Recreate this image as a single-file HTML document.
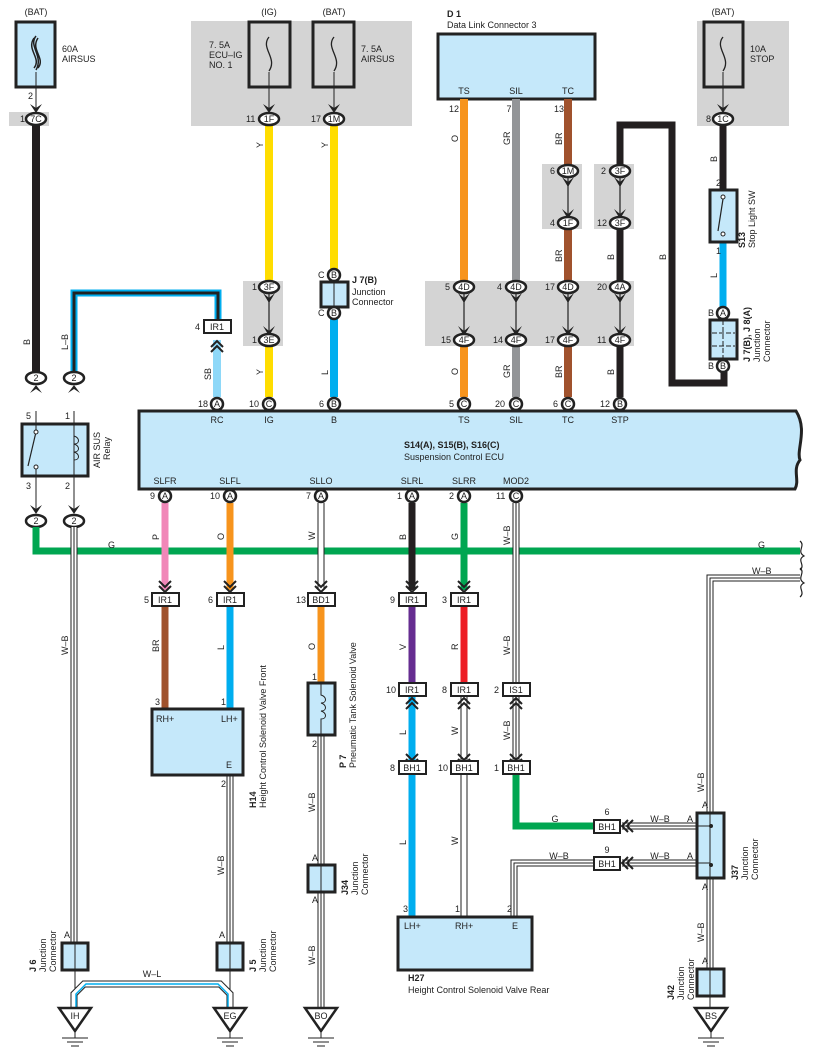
<!DOCTYPE html>
<html><head><meta charset="utf-8"><style>
html,body{margin:0;padding:0;background:#fff}
svg{display:block}
text{font-family:"Liberation Sans",sans-serif;font-size:9px;fill:#222}
.b{font-weight:bold}
.c{text-anchor:middle}
.fb{fill:#c5e8fa;stroke:#222;stroke-width:3}
.gy{fill:#d4d4d4}
.co{fill:#fff;stroke:#222;stroke-width:2.5}
.ch{fill:none;stroke:#222;stroke-width:2}
</style></head><body>
<svg width="814" height="1062" viewBox="0 0 814 1062" xmlns="http://www.w3.org/2000/svg">
<rect class="gy" x="9" y="112" width="40" height="14"/>
<rect class="gy" x="191" y="21" width="221" height="105"/>
<rect class="gy" x="697" y="21" width="92" height="105"/>
<rect class="gy" x="243" y="281" width="40" height="65"/>
<rect class="gy" x="542" y="164" width="40" height="65"/>
<rect class="gy" x="594" y="164" width="40" height="65"/>
<rect class="gy" x="425" y="281" width="209" height="65"/>

<rect class="fb" x="16" y="22" width="39" height="65"/>
<path d="M36 36 C28 46 44 56 36 70 M34 38 C26 50 42 58 34 68 M38 38 C30 50 46 58 38 68" fill="none" stroke="#222" stroke-width="1.5"/>
<text x="36" y="15" class="c">(BAT)</text>
<text x="62" y="52">60A</text><text x="62" y="62">AIRSUS</text>
<rect x="249" y="22" width="41" height="65" fill="#d4d4d4" stroke="#222" stroke-width="3"/>
<rect x="313" y="22" width="41" height="65" fill="#d4d4d4" stroke="#222" stroke-width="3"/>
<rect x="704" y="22" width="39" height="65" fill="#d4d4d4" stroke="#222" stroke-width="3"/>
<path d="M269 37 C260 48 278 58 269 71 M334 37 C325 48 343 58 334 71 M723 37 C714 48 732 58 723 71" fill="none" stroke="#222" stroke-width="1.3"/>
<text x="269" y="15" class="c">(IG)</text><text x="334" y="15" class="c">(BAT)</text><text x="723" y="15" class="c">(BAT)</text>
<text x="209" y="48">7. 5A</text><text x="209" y="58">ECU–IG</text><text x="209" y="68">NO. 1</text>
<text x="361" y="52">7. 5A</text><text x="361" y="62">AIRSUS</text>
<text x="750" y="52">10A</text><text x="750" y="62">STOP</text>
<path d="M36 72 V112 M269 72 V112 M334 72 V112 M723 72 V112" stroke="#222" stroke-width="1"/>
<text x="28" y="99">2</text>

<text x="447" y="17" class="b">D 1</text><text x="447" y="28">Data Link Connector 3</text>
<rect class="fb" x="438" y="34" width="157" height="65"/>
<text x="464" y="94" class="c">TS</text><text x="516" y="94" class="c">SIL</text><text x="568" y="94" class="c">TC</text>
<text x="454" y="112" class="c">12</text><text x="509" y="112" class="c">7</text><text x="559" y="112" class="c">13</text>

<path d="M36 125 V378" stroke="#231f20" stroke-width="8"/>
<path d="M74 372 V293 H218 V320" fill="none" stroke="#00aeef" stroke-width="7"/>
<path d="M74 372 V293 H218 V320" fill="none" stroke="#222" stroke-width="3"/>
<path d="M217 340 V397" stroke="#8ed8f8" stroke-width="8"/>
<path d="M269 125 V281 M269 346 V397" stroke="#ffdd00" stroke-width="8"/>
<path d="M334 125 V270" stroke="#ffdd00" stroke-width="8"/>
<path d="M334 319 V397" stroke="#00aeef" stroke-width="8"/>
<path d="M464 99 V281 M464 346 V397" stroke="#f7941d" stroke-width="8"/>
<path d="M516 99 V281 M516 346 V397" stroke="#939598" stroke-width="8"/>
<path d="M568 99 V165 M568 229 V281 M568 346 V397" stroke="#a0522d" stroke-width="8"/>
<path d="M620 165 V125 H672 V383 H724 V372" fill="none" stroke="#231f20" stroke-width="7"/>
<path d="M620 229 V281 M620 346 V397" stroke="#231f20" stroke-width="7"/>
<path d="M723 125 V190" stroke="#231f20" stroke-width="7"/>
<path d="M723 242 V308" stroke="#00aeef" stroke-width="7"/>
<g stroke="#222" stroke-width="1.2">
<path d="M269 292 V336 M568 176 V219 M620 176 V219 M464 292 V336 M516 292 V336 M568 292 V336 M620 292 V336"/>
</g>
<g fill="#222">
<path d="M263 293 L269 303 L275 293 L269 298Z M263 326 L269 336 L275 326 L269 331Z"/>
<path d="M562 177 L568 187 L574 177 L568 182Z M562 209 L568 219 L574 209 L568 214Z"/>
<path d="M614 177 L620 187 L626 177 L620 182Z M614 209 L620 219 L626 209 L620 214Z"/>
<path d="M458 293 L464 303 L470 293 L464 298Z M458 326 L464 336 L470 326 L464 331Z"/>
<path d="M510 293 L516 303 L522 293 L516 298Z M510 326 L516 336 L522 326 L516 331Z"/>
<path d="M562 293 L568 303 L574 293 L568 298Z M562 326 L568 336 L574 326 L568 331Z"/>
<path d="M614 293 L620 303 L626 293 L620 298Z M614 326 L620 336 L626 326 L620 331Z"/>
<path d="M30 104 L36 113 L42 104 L36 108Z M263 104 L269 113 L275 104 L269 108Z M328 104 L334 113 L340 104 L334 108Z M717 104 L723 113 L729 104 L723 108Z"/>
<path d="M30 393 L36 385 L42 393 L36 389Z M68 393 L74 385 L80 393 L74 389Z"/>
<path d="M30 505 L36 514 L42 505 L36 509Z M68 505 L74 514 L80 505 L74 509Z"/>
</g>
<path class="ch" d="M211 347 L217 341 L223 347 M211 352 L217 346 L223 352"/>

<g>
<ellipse class="co" cx="36" cy="119" rx="10" ry="6"/><text x="36" y="122" class="c">7C</text><text x="20" y="122">1</text>
<ellipse class="co" cx="269" cy="119" rx="10" ry="6"/><text x="269" y="122" class="c">1F</text><text x="246" y="122">11</text>
<ellipse class="co" cx="334" cy="119" rx="10" ry="6"/><text x="334" y="122" class="c">1M</text><text x="311" y="122">17</text>
<ellipse class="co" cx="723" cy="119" rx="10" ry="6"/><text x="723" y="122" class="c">1C</text><text x="706" y="122">8</text>
<ellipse class="co" cx="269" cy="287" rx="10" ry="6"/><text x="269" y="290" class="c">3F</text><text x="252" y="290">1</text>
<ellipse class="co" cx="269" cy="340" rx="10" ry="6"/><text x="269" y="343" class="c">3E</text><text x="252" y="343">1</text>
<ellipse class="co" cx="568" cy="171" rx="10" ry="6"/><text x="568" y="174" class="c">1M</text><text x="550" y="174">6</text>
<ellipse class="co" cx="568" cy="223" rx="10" ry="6"/><text x="568" y="226" class="c">1F</text><text x="550" y="226">4</text>
<ellipse class="co" cx="620" cy="171" rx="10" ry="6"/><text x="620" y="174" class="c">3F</text><text x="601" y="174">2</text>
<ellipse class="co" cx="620" cy="223" rx="10" ry="6"/><text x="620" y="226" class="c">3F</text><text x="597" y="226">12</text>
<ellipse class="co" cx="464" cy="287" rx="10" ry="6"/><text x="464" y="290" class="c">4D</text><text x="445" y="290">5</text>
<ellipse class="co" cx="516" cy="287" rx="10" ry="6"/><text x="516" y="290" class="c">4D</text><text x="497" y="290">4</text>
<ellipse class="co" cx="568" cy="287" rx="10" ry="6"/><text x="568" y="290" class="c">4D</text><text x="545" y="290">17</text>
<ellipse class="co" cx="620" cy="287" rx="10" ry="6"/><text x="620" y="290" class="c">4A</text><text x="597" y="290">20</text>
<ellipse class="co" cx="464" cy="340" rx="10" ry="6"/><text x="464" y="343" class="c">4F</text><text x="441" y="343">15</text>
<ellipse class="co" cx="516" cy="340" rx="10" ry="6"/><text x="516" y="343" class="c">4F</text><text x="493" y="343">14</text>
<ellipse class="co" cx="568" cy="340" rx="10" ry="6"/><text x="568" y="343" class="c">4F</text><text x="545" y="343">17</text>
<ellipse class="co" cx="620" cy="340" rx="10" ry="6"/><text x="620" y="343" class="c">4F</text><text x="597" y="343">11</text>
<ellipse class="co" cx="36" cy="378" rx="10" ry="6"/><text x="36" y="381" class="c">2</text>
<ellipse class="co" cx="74" cy="378" rx="10" ry="6"/><text x="74" y="381" class="c">2</text>
<ellipse class="co" cx="36" cy="521" rx="10" ry="6"/><text x="36" y="524" class="c">2</text>
<ellipse class="co" cx="74" cy="521" rx="10" ry="6"/><text x="74" y="524" class="c">2</text>
</g>

<circle class="co" cx="334" cy="275" r="6"/><text x="334" y="278" class="c">B</text><text x="318" y="278">C</text>
<rect x="321" y="282" width="27" height="25" class="fb"/><path d="M334 282 V307" stroke="#222" stroke-width="1"/>
<circle class="co" cx="334" cy="313" r="6"/><text x="334" y="316" class="c">B</text><text x="318" y="316">C</text>
<text x="352" y="283" class="b">J 7(B)</text><text x="352" y="295">Junction</text><text x="352" y="305">Connector</text>

<rect x="204" y="320" width="27" height="13" fill="#fff" stroke="#222" stroke-width="2"/><text x="217" y="330" class="c">IR1</text><text x="195" y="330">4</text>

<text x="716" y="186">2</text>
<rect class="fb" x="710" y="190" width="27" height="52"/>
<path d="M723 199 L718 231" stroke="#222" stroke-width="1.2"/><circle cx="723" cy="197" r="2" fill="#fff" stroke="#222"/><circle cx="723" cy="234" r="2" fill="#fff" stroke="#222"/>
<text transform="translate(745,248) rotate(-90)" class="b">S13</text>
<text transform="translate(755,248) rotate(-90)">Stop Light SW</text>
<text x="716" y="254">1</text>
<circle class="co" cx="723" cy="313" r="6"/><text x="723" y="316" class="c">A</text><text x="708" y="316">B</text>
<rect class="fb" x="710" y="320" width="27" height="39"/>
<path d="M723 320 V359 M712 333 H735 M712 346 H735" stroke="#222" stroke-width="1" stroke-dasharray="5,2"/>
<circle class="co" cx="723" cy="366" r="6"/><text x="723" y="369" class="c">B</text><text x="708" y="369">B</text>
<text transform="translate(750,362) rotate(-90)" class="b">J 7(B), J 8(A)</text>
<text transform="translate(760,362) rotate(-90)">Junction</text>
<text transform="translate(770,362) rotate(-90)">Connector</text>

<g>
<text transform="translate(30,345) rotate(-90)">B</text>
<text transform="translate(68,350) rotate(-90)">L–B</text>
<text transform="translate(211,380) rotate(-90)">SB</text>
<text transform="translate(263,148) rotate(-90)">Y</text><text transform="translate(263,375) rotate(-90)">Y</text>
<text transform="translate(328,148) rotate(-90)">Y</text><text transform="translate(328,375) rotate(-90)">L</text>
<text transform="translate(458,142) rotate(-90)">O</text><text transform="translate(458,375) rotate(-90)">O</text>
<text transform="translate(510,145) rotate(-90)">GR</text><text transform="translate(510,378) rotate(-90)">GR</text>
<text transform="translate(562,145) rotate(-90)">BR</text><text transform="translate(562,262) rotate(-90)">BR</text><text transform="translate(562,378) rotate(-90)">BR</text>
<text transform="translate(614,260) rotate(-90)">B</text><text transform="translate(614,375) rotate(-90)">B</text>
<text transform="translate(666,260) rotate(-90)">B</text>
<text transform="translate(717,162) rotate(-90)">B</text><text transform="translate(717,278) rotate(-90)">L</text>
</g>

<path d="M139 411 H796 C808 430 796 450 800 460 C792 470 800 480 795 489 H139 Z" class="fb" stroke-width="2.5"/>
<g>
<circle class="co" cx="217" cy="404" r="6"/><text x="217" y="407" class="c">A</text><text x="198" y="407">18</text>
<circle class="co" cx="269" cy="404" r="6"/><text x="269" y="407" class="c">C</text><text x="249" y="407">10</text>
<circle class="co" cx="334" cy="404" r="6"/><text x="334" y="407" class="c">B</text><text x="319" y="407">6</text>
<circle class="co" cx="464" cy="404" r="6"/><text x="464" y="407" class="c">C</text><text x="449" y="407">5</text>
<circle class="co" cx="516" cy="404" r="6"/><text x="516" y="407" class="c">C</text><text x="495" y="407">20</text>
<circle class="co" cx="568" cy="404" r="6"/><text x="568" y="407" class="c">C</text><text x="553" y="407">6</text>
<circle class="co" cx="620" cy="404" r="6"/><text x="620" y="407" class="c">B</text><text x="600" y="407">12</text>
</g>
<text x="217" y="423" class="c">RC</text><text x="269" y="423" class="c">IG</text><text x="334" y="423" class="c">B</text><text x="464" y="423" class="c">TS</text><text x="516" y="423" class="c">SIL</text><text x="568" y="423" class="c">TC</text><text x="620" y="423" class="c">STP</text>
<text x="404" y="448" class="b">S14(A), S15(B), S16(C)</text><text x="404" y="460">Suspension Control ECU</text>
<text x="165" y="484" class="c">SLFR</text><text x="230" y="484" class="c">SLFL</text><text x="321" y="484" class="c">SLLO</text><text x="412" y="484" class="c">SLRL</text><text x="464" y="484" class="c">SLRR</text><text x="516" y="484" class="c">MOD2</text>

<text x="26" y="419">5</text><text x="65" y="419">1</text>
<rect class="fb" x="22" y="424" width="66" height="52"/>
<path d="M36 411 V430 M36 466 V510 M74 411 V510" stroke="#222" stroke-width="1"/>
<path d="M36 432 L28 466" stroke="#222" stroke-width="1.2"/><circle cx="36" cy="432" r="2" fill="#fff" stroke="#222"/><circle cx="36" cy="467" r="2" fill="#fff" stroke="#222"/>
<path d="M74 436 C80 438 80 444 74 444 C80 446 80 452 74 452 C80 454 80 460 74 460" fill="none" stroke="#222" stroke-width="1"/>
<text x="26" y="489">3</text><text x="65" y="489">2</text>
<text transform="translate(100,468) rotate(-90)">AIR SUS</text><text transform="translate(110,460) rotate(-90)">Relay</text>

<path d="M36 527 V551 H800" fill="none" stroke="#00a651" stroke-width="7"/>
<path d="M800 541 C806 546 796 551 804 556 C796 560 806 565 800 570" fill="none" stroke="#222" stroke-width="1.2"/>
<text x="108" y="548">G</text><text x="758" y="548">G</text>

<path d="M165 503 V590" stroke="#f187b8" stroke-width="7"/>
<path d="M230 503 V590" stroke="#f7941d" stroke-width="7"/>
<path d="M412 503 V590" stroke="#231f20" stroke-width="7"/>
<path d="M464 503 V590" stroke="#00a651" stroke-width="7"/>
<path d="M165 607 V709" stroke="#a0522d" stroke-width="7"/>
<path d="M230 607 V709" stroke="#00aeef" stroke-width="7"/>
<path d="M321 607 V683" stroke="#f7941d" stroke-width="7"/>
<path d="M412 607 V683" stroke="#662d91" stroke-width="7"/>
<path d="M464 607 V683" stroke="#ed1c24" stroke-width="7"/>
<path d="M412 697 V761 M412 775 V917" stroke="#00aeef" stroke-width="7"/>
<path d="M516 775 V826 H594" fill="none" stroke="#00a651" stroke-width="7"/>

<g fill="none" stroke="#222" stroke-width="7">
<path d="M321 503 V590"/><path d="M464 697 V761 M464 775 V917"/>
<path d="M516 503 V683 M516 697 V761"/>
<path d="M74 527 V943"/><path d="M230 775 V943"/><path d="M321 735 V1008"/>
<path d="M514 917 V863 H594"/><path d="M622 826 H697 M622 863 H697"/>
<path d="M710 812 V578 H800"/><path d="M710 878 V968"/>
</g>
<g fill="none" stroke="#fff" stroke-width="5">
<path d="M321 503 V590"/><path d="M464 697 V761 M464 775 V917"/>
<path d="M516 503 V683 M516 697 V761"/>
<path d="M74 527 V943"/><path d="M230 775 V943"/><path d="M321 735 V1008"/>
<path d="M514 917 V863 H594"/><path d="M622 826 H697 M622 863 H697"/>
<path d="M710 812 V578 H800"/><path d="M710 878 V968"/>
</g>
<g fill="none" stroke="#222" stroke-width="1">
<path d="M516 503 V683 M516 697 V761"/>
<path d="M74 527 V943"/><path d="M230 775 V943"/><path d="M321 735 V1008"/>
<path d="M514 917 V863 H594"/><path d="M622 826 H697 M622 863 H697"/>
<path d="M710 812 V578 H800"/><path d="M710 878 V968"/>
</g>
<path d="M800 568 C806 573 796 578 804 583 C796 587 806 592 800 597" fill="none" stroke="#222" stroke-width="1.2"/>
<text x="752" y="574">W–B</text>

<g class="ch">
<path d="M159 581 L165 587 L171 581 M159 586 L165 592 L171 586"/>
<path d="M224 581 L230 587 L236 581 M224 586 L230 592 L236 586"/>
<path d="M315 581 L321 587 L327 581 M315 586 L321 592 L327 586"/>
<path d="M406 581 L412 587 L418 581 M406 586 L412 592 L418 586"/>
<path d="M458 581 L464 587 L470 581 M458 586 L464 592 L470 586"/>
<path d="M406 704 L412 698 L418 704 M406 709 L412 703 L418 709 M406 754 L412 760 L418 754 M406 759 L412 765 L418 759"/>
<path d="M458 704 L464 698 L470 704 M458 709 L464 703 L470 709 M458 754 L464 760 L470 754 M458 759 L464 765 L470 759"/>
<path d="M510 704 L516 698 L522 704 M510 709 L516 703 L522 709 M510 754 L516 760 L522 754 M510 759 L516 765 L522 759"/>
<path d="M628 820 L622 826 L628 832 M633 820 L627 826 L633 832"/>
<path d="M628 857 L622 863 L628 869 M633 857 L627 863 L633 869"/>
</g>

<g>
<circle class="co" cx="165" cy="496" r="6"/><text x="165" y="499" class="c">A</text><text x="150" y="499">9</text>
<circle class="co" cx="230" cy="496" r="6"/><text x="230" y="499" class="c">A</text><text x="210" y="499">10</text>
<circle class="co" cx="321" cy="496" r="6"/><text x="321" y="499" class="c">A</text><text x="306" y="499">7</text>
<circle class="co" cx="412" cy="496" r="6"/><text x="412" y="499" class="c">A</text><text x="397" y="499">1</text>
<circle class="co" cx="464" cy="496" r="6"/><text x="464" y="499" class="c">A</text><text x="449" y="499">2</text>
<circle class="co" cx="516" cy="496" r="6"/><text x="516" y="499" class="c">C</text><text x="496" y="499">11</text>
</g>
<g fill="#fff" stroke="#222" stroke-width="2">
<rect x="152" y="593" width="27" height="13"/><rect x="217" y="593" width="27" height="13"/><rect x="308" y="593" width="27" height="13"/>
<rect x="399" y="593" width="27" height="13"/><rect x="451" y="593" width="27" height="13"/>
<rect x="399" y="683" width="27" height="13"/><rect x="451" y="683" width="27" height="13"/><rect x="503" y="683" width="27" height="13"/>
<rect x="399" y="761" width="27" height="13"/><rect x="451" y="761" width="27" height="13"/><rect x="503" y="761" width="27" height="13"/>
<rect x="594" y="820" width="26" height="13"/><rect x="594" y="857" width="26" height="13"/>
</g>
<g>
<text x="165" y="603" class="c">IR1</text><text x="144" y="603">5</text>
<text x="230" y="603" class="c">IR1</text><text x="208" y="603">6</text>
<text x="321" y="603" class="c">BD1</text><text x="296" y="603">13</text>
<text x="412" y="603" class="c">IR1</text><text x="390" y="603">9</text>
<text x="464" y="603" class="c">IR1</text><text x="442" y="603">3</text>
<text x="412" y="693" class="c">IR1</text><text x="386" y="693">10</text>
<text x="464" y="693" class="c">IR1</text><text x="442" y="693">8</text>
<text x="516" y="693" class="c">IS1</text><text x="494" y="693">2</text>
<text x="412" y="771" class="c">BH1</text><text x="390" y="771">8</text>
<text x="464" y="771" class="c">BH1</text><text x="438" y="771">10</text>
<text x="516" y="771" class="c">BH1</text><text x="494" y="771">1</text>
<text x="607" y="830" class="c">BH1</text><text x="607" y="815" class="c">6</text>
<text x="607" y="867" class="c">BH1</text><text x="607" y="853" class="c">9</text>
</g>

<text x="155" y="705">3</text><text x="221" y="705">1</text>
<rect class="fb" x="152" y="709" width="91" height="66"/>
<text x="156" y="722">RH+</text><text x="221" y="722">LH+</text><text x="226" y="768">E</text>
<text x="221" y="787">2</text>
<text transform="translate(256,808) rotate(-90)" class="b">H14</text>
<text transform="translate(266,808) rotate(-90)">Height Control Solenoid Valve Front</text>

<text x="312" y="680">1</text>
<rect class="fb" x="308" y="683" width="27" height="52"/>
<path d="M321 683 V695 C327 697 327 703 321 703 C327 705 327 711 321 711 C327 713 327 719 321 719 V735" fill="none" stroke="#222" stroke-width="1"/>
<text x="312" y="747">2</text>
<text transform="translate(346,768) rotate(-90)" class="b">P 7</text>
<text transform="translate(356,768) rotate(-90)">Pneumatic Tank Solenoid Valve</text>

<text x="403" y="912">3</text><text x="455" y="912">1</text><text x="507" y="912">2</text>
<rect class="fb" x="398" y="917" width="134" height="53"/>
<text x="404" y="929">LH+</text><text x="455" y="929">RH+</text><text x="512" y="929">E</text>
<text x="408" y="981" class="b">H27</text><text x="408" y="993">Height Control Solenoid Valve Rear</text>

<rect class="fb" x="697" y="813" width="27" height="65"/>
<path d="M710 813 V878 M697 826 H710 M697 863 H710" stroke="#222" stroke-width="1"/>
<circle cx="711" cy="826" r="2" fill="#222"/><circle cx="711" cy="865" r="2" fill="#222"/>
<text x="702" y="808">A</text><text x="687" y="822">A</text><text x="687" y="859">A</text><text x="702" y="890">A</text>
<text transform="translate(738,880) rotate(-90)" class="b">J37</text>
<text transform="translate(748,880) rotate(-90)">Junction</text><text transform="translate(758,880) rotate(-90)">Connector</text>
<text x="555" y="822" class="c">G</text><text x="660" y="822" class="c">W–B</text><text x="660" y="859" class="c">W–B</text><text x="559" y="859" class="c">W–B</text>

<text x="702" y="964">A</text>
<rect class="fb" x="697" y="969" width="27" height="27"/><path d="M710 969 V1010" stroke="#222" stroke-width="1"/>
<text transform="translate(674,1000) rotate(-90)" class="b">J42</text>
<text transform="translate(684,1000) rotate(-90)">Junction</text><text transform="translate(694,1000) rotate(-90)">Connector</text>

<text x="312" y="861">A</text><text x="312" y="903">A</text>
<rect class="fb" x="308" y="865" width="27" height="27"/>
<path d="M321 865 V892" stroke="#222" stroke-width="1"/>
<text transform="translate(348,895) rotate(-90)" class="b">J34</text>
<text transform="translate(358,895) rotate(-90)">Junction</text><text transform="translate(368,895) rotate(-90)">Connector</text>

<text x="64" y="938">A</text><text x="219" y="938">A</text>
<rect class="fb" x="62" y="943" width="26" height="27"/><path d="M75 943 V1008" stroke="#222" stroke-width="1"/>
<rect class="fb" x="217" y="943" width="26" height="27" stroke="#555"/><path d="M230 943 V1008" stroke="#222" stroke-width="1"/>
<text transform="translate(36,972) rotate(-90)" class="b">J 6</text>
<text transform="translate(46,972) rotate(-90)">Junction</text><text transform="translate(56,972) rotate(-90)">Connector</text>
<text transform="translate(256,972) rotate(-90)" class="b">J 5</text>
<text transform="translate(266,972) rotate(-90)">Junction</text><text transform="translate(276,972) rotate(-90)">Connector</text>
<path d="M74 1008 V994 L84 984 H220 L230 994 V1008" fill="none" stroke="#222" stroke-width="7"/>
<path d="M74 1008 V994 L84 984 H220 L230 994 V1008" fill="none" stroke="#fff" stroke-width="5"/>
<path d="M76 1008 V994 L86 984 H218 L228 994 V1008" fill="none" stroke="#00aeef" stroke-width="1.5"/>
<text x="152" y="977" class="c">W–L</text>

<g fill="#fff" stroke="#222" stroke-width="2.5">
<path d="M59 1008 H91 L75 1031 Z"/><path d="M214 1008 H246 L230 1031 Z"/><path d="M305 1008 H337 L321 1031 Z"/><path d="M695 1008 H727 L711 1031 Z"/>
</g>
<g stroke="#222" stroke-width="1">
<path d="M75 1031 V1038 M62 1038 H88 M67 1042 H83 M71 1046 H79"/>
<path d="M230 1031 V1038 M217 1038 H243 M222 1042 H238 M226 1046 H234"/>
<path d="M321 1031 V1038 M308 1038 H334 M313 1042 H329 M317 1046 H325"/>
<path d="M711 1031 V1038 M698 1038 H724 M703 1042 H719 M707 1046 H715"/>
</g>
<text x="75" y="1019" class="c">IH</text><text x="230" y="1019" class="c">EG</text><text x="321" y="1019" class="c">BO</text><text x="711" y="1019" class="c">BS</text>

<g>
<text transform="translate(68,655) rotate(-90)">W–B</text>
<text transform="translate(159,540) rotate(-90)">P</text><text transform="translate(224,540) rotate(-90)">O</text>
<text transform="translate(315,540) rotate(-90)">W</text><text transform="translate(406,540) rotate(-90)">B</text>
<text transform="translate(458,540) rotate(-90)">G</text><text transform="translate(510,545) rotate(-90)">W–B</text>
<text transform="translate(159,652) rotate(-90)">BR</text><text transform="translate(224,650) rotate(-90)">L</text>
<text transform="translate(315,650) rotate(-90)">O</text><text transform="translate(406,650) rotate(-90)">V</text>
<text transform="translate(458,650) rotate(-90)">R</text><text transform="translate(510,655) rotate(-90)">W–B</text>
<text transform="translate(406,735) rotate(-90)">L</text><text transform="translate(458,735) rotate(-90)">W</text>
<text transform="translate(510,740) rotate(-90)">W–B</text>
<text transform="translate(406,845) rotate(-90)">L</text><text transform="translate(458,845) rotate(-90)">W</text>
<text transform="translate(224,875) rotate(-90)">W–B</text>
<text transform="translate(315,812) rotate(-90)">W–B</text><text transform="translate(315,965) rotate(-90)">W–B</text>
<text transform="translate(704,792) rotate(-90)">W–B</text><text transform="translate(704,942) rotate(-90)">W–B</text>
</g>
</svg>
</body></html>
